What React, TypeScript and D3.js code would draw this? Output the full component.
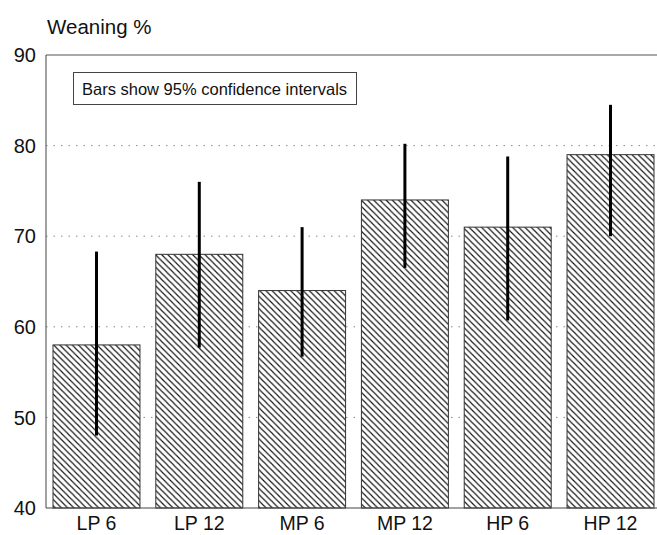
import React from "react";
import * as d3 from "d3";

const categories = ["LP 6", "LP 12", "MP 6", "MP 12", "HP 6", "HP 12"];
const means = [58, 68, 64, 74, 71, 79];
const lower = [48, 57.7, 56.7, 66.5, 60.7, 70];
const upper = [68.3, 76, 71, 80.2, 78.8, 84.5];
const yTicks = [40, 50, 60, 70, 80, 90];
const gridTicks = [50, 60, 70, 80];
const yTitle = "Weaning %";
const note = "Bars show 95% confidence intervals";

const W = 657;
const H = 535;
const FONT = "'Liberation Sans', Arial, Helvetica, sans-serif";

export default function App() {
  const x = d3
    .scaleBand<string>()
    .domain(categories)
    .range([53, 654])
    .paddingInner(0.154)
    .paddingOuter(0);
  const y = d3.scaleLinear().domain([40, 90]).range([508, 55]);
  const axisX = 46;

  return (
    <svg
      width={W}
      height={H}
      style={{ position: "absolute", left: 0, top: 0, background: "#fff" }}
      fontFamily={FONT}
    >
      <defs>
        <pattern id="hatch" patternUnits="userSpaceOnUse" width={6.2} height={6.2}>
          <rect width={6.2} height={6.2} fill="#fff" />
          <path
            d="M0,0 L6.2,6.2 M-1,5.2 L1,7.2 M5.2,-1 L7.2,1"
            stroke="#111"
            strokeWidth={1.15}
          />
        </pattern>
      </defs>
      <rect width={W} height={H} fill="#fff" />

      {/* title */}
      <text x={47} y={34} fontSize={20.5} fill="#111">
        {yTitle}
      </text>

      {/* gridlines */}
      {gridTicks.map((t) => (
        <line
          key={t}
          x1={axisX}
          x2={W}
          y1={y(t)}
          y2={y(t)}
          stroke="#888"
          strokeWidth={1}
          strokeDasharray="1.5,6"
        />
      ))}
      {/* top line at 90 */}
      <line x1={axisX} x2={W} y1={y(90)} y2={y(90)} stroke="#555" strokeWidth={1} />

      {/* y axis */}
      <line x1={axisX} x2={axisX} y1={y(90)} y2={y(40)} stroke="#444" strokeWidth={1} />
      {yTicks.map((t) => (
        <text
          key={t}
          x={36}
          y={y(t)}
          dy="0.36em"
          textAnchor="end"
          fontSize={20}
          fill="#111"
        >
          {t}
        </text>
      ))}

      {/* note box */}
      <rect x={73.5} y={72.5} width={283} height={32} fill="#fff" stroke="#444" strokeWidth={1} />
      <text x={82} y={95} fontSize={16.5} fill="#111">
        {note}
      </text>

      {/* bars */}
      {categories.map((c, i) => (
        <rect
          key={c}
          x={x(c)!}
          y={y(means[i])}
          width={x.bandwidth()}
          height={y(40) - y(means[i])}
          fill="url(#hatch)"
          stroke="#333"
          strokeWidth={1}
        />
      ))}

      {/* baseline */}
      <line x1={axisX} x2={W} y1={y(40)} y2={y(40)} stroke="#444" strokeWidth={1} />

      {/* error bars */}
      {categories.map((c, i) => (
        <line
          key={c}
          x1={x(c)! + x.bandwidth() / 2}
          x2={x(c)! + x.bandwidth() / 2}
          y1={y(lower[i])}
          y2={y(upper[i])}
          stroke="#000"
          strokeWidth={3}
        />
      ))}

      {/* x labels */}
      {categories.map((c) => (
        <text
          key={c}
          x={x(c)! + x.bandwidth() / 2}
          y={530}
          textAnchor="middle"
          fontSize={19.5}
          fill="#111"
        >
          {c}
        </text>
      ))}
    </svg>
  );
}
